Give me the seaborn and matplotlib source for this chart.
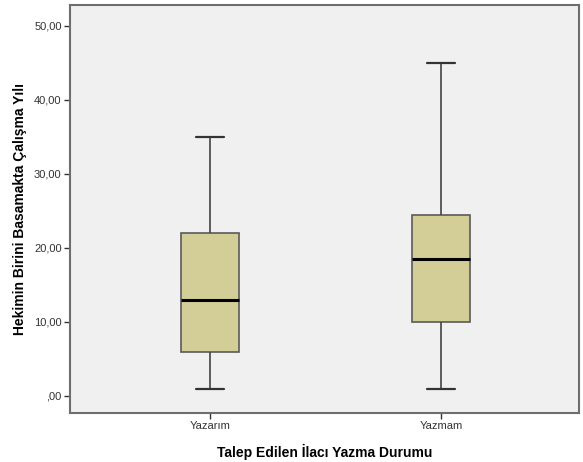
import matplotlib
matplotlib.use("Agg")
import matplotlib.pyplot as plt
import seaborn as sns
import pandas as pd

# Data: five-number summaries (min, Q1, median, Q3, max)
categories = ["Yazarım", "Yazmam"]
yazarim_values = [1, 6, 13, 22, 35]
yazmam_values = [1, 10, 18.5, 24.5, 45]
y_ticks = [0, 10, 20, 30, 40, 50]
y_tick_labels = [",00", "10,00", "20,00", "30,00", "40,00", "50,00"]

df = pd.DataFrame({
    "grp": [categories[0]] * len(yazarim_values) + [categories[1]] * len(yazmam_values),
    "val": yazarim_values + yazmam_values,
})

sns.set_style("white")
plt.rcParams["font.family"] = ["Liberation Sans", "DejaVu Sans"]

fig = plt.figure(figsize=(5.83, 4.62), dpi=100)
ax = fig.add_axes([0.120, 0.106, 0.873, 0.883])
ax.set_facecolor("#f0f0f0")

sns.boxplot(data=df, x="grp", y="val", order=categories, ax=ax,
            color="#d3ce97", saturation=1, width=0.25, whis=1.5,
            linecolor="#5a5a5a", linewidth=1.2,
            medianprops={"color": "black", "linewidth": 2.2},
            capprops={"color": "#333333", "linewidth": 1.6},
            whiskerprops={"color": "#444444", "linewidth": 1.2})

ax.set_xlim(-0.606, 1.597)
ax.set_ylim(-2.3, 52.8)
ax.set_yticks(y_ticks)
ax.set_yticklabels(y_tick_labels)
ax.set_xticks(range(len(categories)))
ax.set_xticklabels(categories)

for s in ax.spines.values():
    s.set_visible(True)
    s.set_color("#6e6e6e")
    s.set_linewidth(1.5)

ax.tick_params(axis="both", which="both", direction="out", length=4, width=1,
               color="#333333", labelsize=8, labelcolor="#333333", pad=2,
               left=True, bottom=True)

ax.set_xlabel("Talep Edilen İlacı Yazma Durumu", fontsize=10, fontweight="bold",
              color="black", labelpad=9)
ax.set_ylabel("Hekimin Birini Basamakta Çalışma Yılı", fontsize=10, fontweight="bold",
              color="black", labelpad=5)

fig.savefig("out.png", dpi=100, facecolor="white")
